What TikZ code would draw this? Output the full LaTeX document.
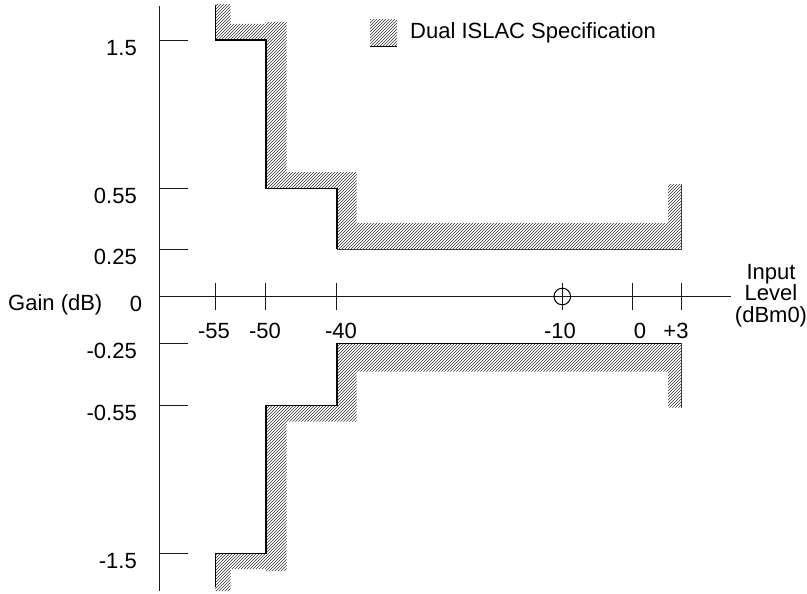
\documentclass[tikz,border=0pt]{standalone}
\usepackage{fontspec}
\setmainfont{Liberation Sans}
\usetikzlibrary{patterns}
\begin{document}
\begin{tikzpicture}[x=1pt,y=-1pt,
  ax/.style={line width=1pt,black!90},
  edge/.style={line width=1.6pt,black,line join=miter},
  thinedge/.style={line width=0.9pt,black!75},
  hatch/.style={pattern=north east lines,pattern color=black!80},
  lbl/.style={font=\fontsize{22}{26}\selectfont,inner sep=0pt}]
\useasboundingbox (0,0) rectangle (807,594);

% hatched bands
\path[hatch] (215.3,4) -- (230.7,4) -- (230.7,24) -- (265.7,24) -- (265.7,22) -- (286.7,22) -- (286.7,172) -- (356.7,172) -- (356.7,223) -- (668,223) -- (668,184) -- (681.7,184) -- (681.7,249.3) -- (336.7,249.3) -- (336.7,188.3) -- (265.7,188.3) -- (265.7,40.3) -- (215.3,40.3) -- cycle;
\path[hatch] (215.3,591) -- (230.7,591) -- (230.7,569) -- (265.7,569) -- (265.7,571) -- (286.7,571) -- (286.7,421.5) -- (356.7,421.5) -- (356.7,371.5) -- (668,371.5) -- (668,407.5) -- (681.7,407.5) -- (681.7,343.3) -- (336.7,343.3) -- (336.7,405.3) -- (265.7,405.3) -- (265.7,553.3) -- (215.3,553.3) -- cycle;

% band edges
\draw[edge] (215.3,5) -- (215.3,40.3) -- (265.7,40.3) -- (265.7,188.3) -- (336.7,188.3) -- (336.7,249.3);
\draw[thinedge] (336.7,249.3) -- (681.7,249.3) -- (681.7,184);
\draw[edge] (215.3,587) -- (215.3,553.3) -- (265.7,553.3) -- (265.7,405.3) -- (336.7,405.3) -- (336.7,343.3) -- (681.7,343.3);
\draw[thinedge] (681.7,343.3) -- (681.7,407.5);

% axes
\coordinate (vtop) at (159.5,6);
\coordinate (vbot) at (159.5,591);
\coordinate (hleft) at (159.5,296.5);
\coordinate (hright) at (731,296.5);
\draw[ax] (vtop) -- (vbot);
\draw[ax] (hleft) -- (hright);

% y ticks
\foreach \yy in {40.3,188.3,249.3,343.3,405.3,553.3}
  \draw[ax] (159.5,\yy) -- (188,\yy);
% x ticks
\foreach \xx in {215.3,265.7,336.7,562.3,632.3,681.7}
  \draw[ax] (\xx,283.3) -- (\xx,310);
\node[draw,circle,line width=1pt,minimum size=16.6pt,inner sep=0pt] (ref) at (562.3,296.5) {};

% y labels
\node[lbl,anchor=base east] (y1) at (137,55.5) {1.5};
\node[lbl,anchor=base east] (y2) at (137,203.5) {0.55};
\node[lbl,anchor=base east] (y3) at (137,264.5) {0.25};
\node[lbl,anchor=base] (y0) at (136,311.5) {0};
\node[lbl,anchor=base east] (y4) at (137,358.5) {-0.25};
\node[lbl,anchor=base east] (y5) at (137,420.5) {-0.55};
\node[lbl,anchor=base east] (y6) at (137,568.5) {-1.5};
\node[lbl,anchor=base west] (gain) at (8,310.5) {Gain (dB)};

% x labels
\node[lbl,anchor=base] (x1) at (214,338) {-55};
\node[lbl,anchor=base] (x2) at (265,338) {-50};
\node[lbl,anchor=base] (x3) at (341,338) {-40};
\node[lbl,anchor=base] (x4) at (560,338) {-10};
\node[lbl,anchor=base] (x5) at (640,338) {0};
\node[lbl,anchor=base] (x6) at (676,338) {+3};
\node[lbl,anchor=base] (in1) at (771,279) {Input};
\node[lbl,anchor=base] (in2) at (771,300.5) {Level};
\node[lbl,anchor=base] (in3) at (771,322) {(dBm0)};

% legend
\path[hatch] (370,20) rectangle (397,46.7);
\draw[line width=1.2pt] (370,46.7) -- (397,46.7);
\node[lbl,anchor=base west] (leg) at (410,38.3) {Dual ISLAC Specification};
\end{tikzpicture}
\end{document}
